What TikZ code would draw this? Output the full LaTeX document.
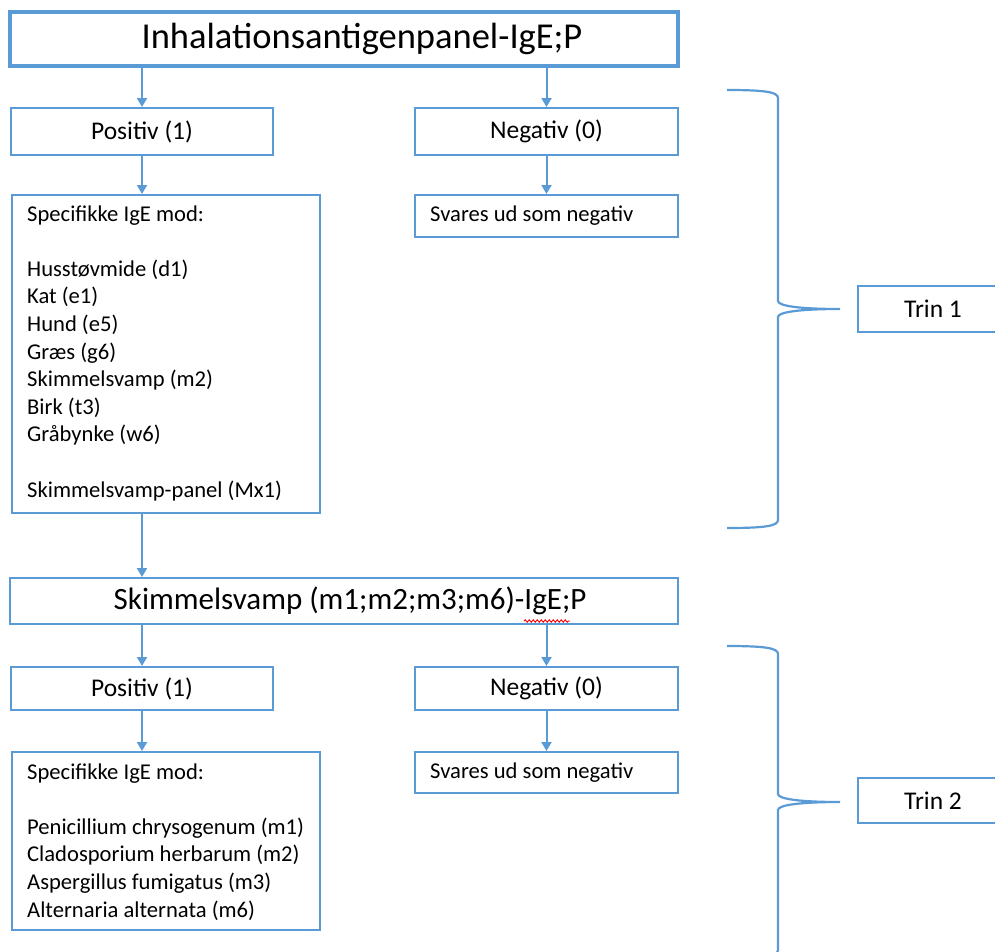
\documentclass[tikz,border=0pt]{standalone}
\usepackage{fontspec}
\setmainfont{Carlito}
\usetikzlibrary{arrows.meta,decorations.pathmorphing}
\definecolor{myblue}{HTML}{5B9BD5}
\begin{document}
\begin{tikzpicture}[x=1pt,y=-1pt,
  box/.style={draw=myblue, line width=2pt, inner sep=0pt, fill=white},
  arr/.style={draw=myblue, line width=2pt, -{Triangle[width=10pt,length=9pt]}},
  brace/.style={draw=myblue, line width=2.2pt},
  ftitle/.style={font=\fontsize{36.5}{44}\selectfont},
  fmid/.style={font=\fontsize{31}{37}\selectfont},
  fnorm/.style={font=\fontsize{25.5}{31}\selectfont},
  fsmall/.style={font=\fontsize{22.6}{27.6}\selectfont}]
\useasboundingbox (0,0) rectangle (995,951);
\clip (0,0) rectangle (995,951);
% top
\node[box, line width=3.5pt, minimum width=668pt, minimum height=54pt] (top) at (344,39) {};
\node[ftitle, inner sep=0pt] (toptxt) at (362,39) {Inhalationsantigenpanel-IgE;P};
\node[box, fnorm, minimum width=262pt, minimum height=47pt] (pos1) at (142,131.5) {Positiv (1)};
\node[box, fnorm, minimum width=263pt, minimum height=47pt] (neg1) at (546.5,131.5) {Negativ (0)};
\node[box, minimum width=308pt, minimum height=318pt] (spec1) at (166,354) {};
\node[fsmall, anchor=base west, text width=290pt, align=flush left, inner sep=0pt] (spec1txt) at (27,221)
 {Specifikke IgE mod:\\[27.6pt]
  Husstøvmide (d1)\\ Kat (e1)\\ Hund (e5)\\ Græs (g6)\\ Skimmelsvamp (m2)\\ Birk (t3)\\ Gråbynke (w6)\\[27.6pt]
  Skimmelsvamp-panel (Mx1)};
\node[box, minimum width=263pt, minimum height=42pt] (sv1) at (546.5,216) {};
\node[fsmall, anchor=west, inner sep=0pt] (sv1txt) at (430,216) {Svares ud som negativ};
% second
\node[box, minimum width=668pt, minimum height=46pt] (skim) at (344,601) {};
\node[fmid, inner sep=0pt] (skimtxt) at (350,601) {Skimmelsvamp (m1;m2;m3;m6)-IgE;P};
\node[box, fnorm, minimum width=262pt, minimum height=43pt] (pos2) at (142,688.5) {Positiv (1)};
\node[box, fnorm, minimum width=263pt, minimum height=43pt] (neg2) at (546.5,688.5) {Negativ (0)};
\node[box, minimum width=308pt, minimum height=178pt] (spec2) at (166,841) {};
\node[fsmall, anchor=base west, text width=290pt, align=flush left, inner sep=0pt] (spec2txt) at (27,779)
 {Specifikke IgE mod:\\[27.6pt]
  Penicillium chrysogenum (m1)\\ Cladosporium herbarum (m2)\\ Aspergillus fumigatus (m3)\\ Alternaria alternata (m6)};
\node[box, minimum width=263pt, minimum height=41pt] (sv2) at (546.5,772.5) {};
\node[fsmall, anchor=west, inner sep=0pt] (sv2txt) at (430,772.5) {Svares ud som negativ};
% Trin
\node[box, fnorm, minimum width=150pt, minimum height=46pt] (trin1) at (933,309) {Trin 1};
\node[box, fnorm, minimum width=150pt, minimum height=45pt] (trin2) at (933,800.5) {Trin 2};
% spell-check squiggle
\coordinate (sq1) at (524,621);
\coordinate (sq2) at (570,621);
\draw[red, line width=0.9pt, decorate, decoration={snake, amplitude=1.2pt, segment length=4pt}] (sq1) -- (sq2);
% arrows
\draw[arr] (pos1.north |- top.south) -- (pos1.north);
\draw[arr] (neg1.north |- top.south) -- (neg1.north);
\draw[arr] (pos1.south) -- (pos1.south |- spec1.north);
\draw[arr] (neg1.south) -- (sv1.north);
\draw[arr] (pos1.south |- spec1.south) -- (pos1.south |- skim.north);
\draw[arr] (pos2.north |- skim.south) -- (pos2.north);
\draw[arr] (neg2.north |- skim.south) -- (neg2.north);
\draw[arr] (pos2.south) -- (pos2.south |- spec2.north);
\draw[arr] (neg2.south) -- (sv2.north);
% braces
\coordinate (b1top) at (727,90);
\coordinate (b1tip) at (840,309);
\coordinate (b1bot) at (727,528);
\draw[brace] (b1top) .. controls (765,90) and (778,92) .. (778,98)
  -- (778,301) .. controls (778,306) and (800,309) .. (b1tip)
  .. controls (800,309) and (778,312) .. (778,317)
  -- (778,520) .. controls (778,526) and (765,528) .. (b1bot);
\coordinate (b2top) at (727,646);
\coordinate (b2tip) at (840,802);
\coordinate (b2bot) at (727,958);
\draw[brace] (b2top) .. controls (765,646) and (778,648) .. (778,654)
  -- (778,794) .. controls (778,799) and (800,802) .. (b2tip)
  .. controls (800,802) and (778,805) .. (778,810)
  -- (778,950) .. controls (778,956) and (765,958) .. (b2bot);
\end{tikzpicture}
\end{document}
